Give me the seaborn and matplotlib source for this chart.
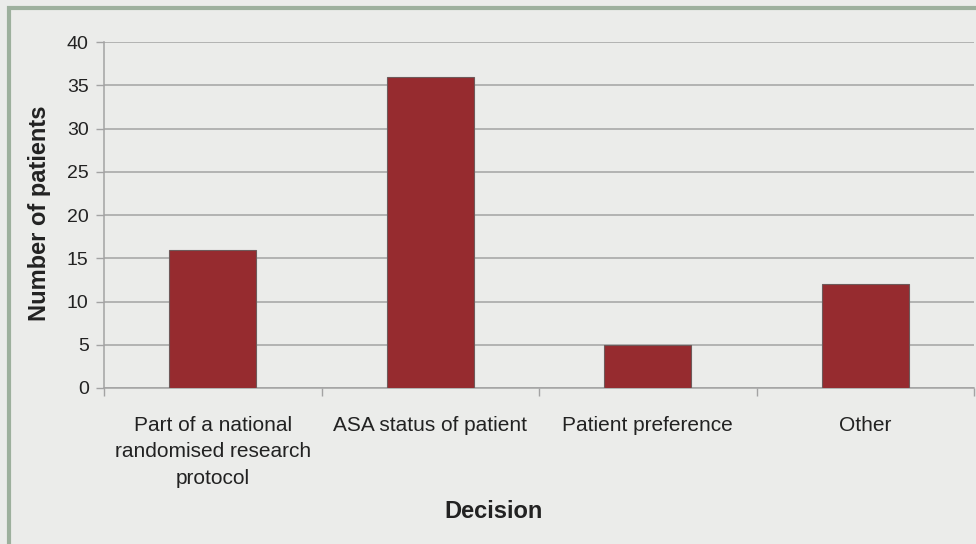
import matplotlib
matplotlib.use("Agg")
import matplotlib.pyplot as plt
import seaborn as sns
import pandas as pd
from matplotlib.patches import Rectangle
from matplotlib.ticker import FixedLocator

categories = ["Part of a national\nrandomised research\nprotocol", "ASA status of patient", "Patient preference", "Other"]
values = [16, 36, 5, 12]

sns.set_theme(style="white")
plt.rcParams['font.family'] = ['Liberation Sans', 'DejaVu Sans']

bg = "#EBECEA"
fig = plt.figure(figsize=(9.76, 5.44), dpi=100, facecolor=bg)
ax = fig.add_axes([104/976, 1-388/544, (974-104)/976, (388-42)/544])
ax.set_facecolor(bg)

df = pd.DataFrame({"Decision": categories, "Number of patients": values})
sns.barplot(data=df, x="Decision", y="Number of patients", color="#962B2F", width=0.4,
            saturation=1, edgecolor="#6E5A5A", linewidth=0.8, ax=ax, zorder=3)

ax.set_ylim(0, 40)
ax.set_xlim(-0.5, 3.5)
ax.set_yticks(range(0, 41, 5))
ax.yaxis.grid(True, color="#A3A3A3", linewidth=1.1, zorder=0)
ax.set_axisbelow(True)
for s in ["top", "right"]:
    ax.spines[s].set_visible(False)
for s in ["left", "bottom"]:
    ax.spines[s].set_color("#A3A3A3")
    ax.spines[s].set_linewidth(1.1)

ax.tick_params(axis="y", which="major", left=True, length=6, width=1, color="#A3A3A3",
               labelsize=14, labelcolor="#222222", pad=5)
ax.tick_params(axis="x", which="major", bottom=False, labelsize=15, labelcolor="#222222", pad=14)
for lab in ax.get_xticklabels():
    lab.set_linespacing(1.5)
ax.xaxis.set_minor_locator(FixedLocator([-0.5, 0.5, 1.5, 2.5, 3.5]))
ax.tick_params(axis="x", which="minor", bottom=True, length=6, width=1, color="#A3A3A3")

ax.set_ylabel("Number of patients", fontsize=17, fontweight="bold", color="#222222")
ax.set_xlabel("Decision", fontsize=17, fontweight="bold", color="#222222")
ax.xaxis.set_label_coords((494-104)/870, (388-512)/346)
ax.xaxis.label.set_va("center")
ax.yaxis.set_label_coords((40-104)/870, (388-213)/346)
ax.yaxis.label.set_va("center")

# border of the chart frame (left and top visible)
fig.patches.append(Rectangle((9/976, -0.2), 1.5, 1.2 - 8/544, transform=fig.transFigure,
                             fill=False, edgecolor="#9DB09D", linewidth=3, zorder=10))

fig.savefig("out.png", dpi=100, facecolor=bg)
